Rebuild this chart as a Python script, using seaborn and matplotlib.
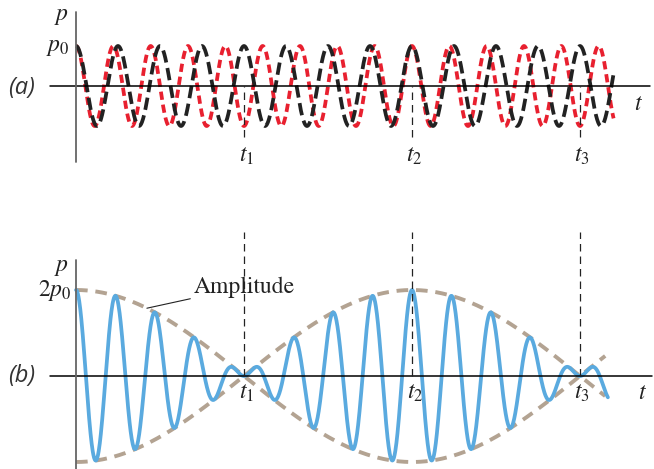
import numpy as np
import matplotlib
matplotlib.use("Agg")
import matplotlib.pyplot as plt
import seaborn as sns

# values (time in units of t2, pressure in units of p0)
P0 = 1.0
freq_black = 8          # cycles between 0 and t2
freq_red = 9
t_marks = [0.5, 1.0, 1.5]
t_labels = ["$t_1$", "$t_2$", "$t_3$"]
t_end_a = 1.60
t_end_b = 1.583
t_end_env = 1.575
amp_point = 0.211

sns.set_style("white")
plt.rcParams["mathtext.fontset"] = "stix"
plt.rcParams["font.family"] = ["DejaVu Sans"]

BLACK = "#222222"
RED = "#e8202f"
BLUE = "#5aaadf"
TAN = "#b3a392"
AXIS_GRAY = "#666666"

W, H = 654, 469
fig = plt.figure(figsize=(W / 100, H / 100), dpi=100)
ax_a = fig.add_axes([0, 1 - 200 / H, 1, 200 / H])
ax_b = fig.add_axes([0, 0, 1, 269 / H])

xlim = (-76 / 336, 578 / 336)
for ax in (ax_a, ax_b):
    ax.set_xlim(*xlim)
    ax.axis("off")
ax_a.set_ylim(-114 / 40, 86 / 40)
ax_b.set_ylim(-93 / 43, 176 / 43)

# ---- panel (a): the two separate waves ----
ta = np.linspace(0, t_end_a, 1500)
p_red = P0 * np.cos(2 * np.pi * freq_red * ta)
p_black = P0 * np.cos(2 * np.pi * freq_black * ta)
sns.lineplot(x=ta, y=p_red, ax=ax_a, color=RED, linewidth=2.7,
             linestyle=(0, (2.2, 1.3)), estimator=None, sort=False)
sns.lineplot(x=ta, y=p_black, ax=ax_a, color=BLACK, linewidth=2.7,
             linestyle=(0, (3.3, 1.5)), estimator=None, sort=False)

ax_a.axhline(0, xmin=50 / W, xmax=650 / W, color="black", lw=1.1)
ax_a.axvline(0, ymin=1 - 162 / 200, ymax=1 - 12 / 200, color=AXIS_GRAY, lw=1.3)
for tm in t_marks:
    ax_a.axvline(tm, ymin=1 - 137 / 200, ymax=1 - 86 / 200, color=BLACK,
                 lw=0.9, linestyle=(0, (6, 4)))

serif = dict(fontsize=17, color="#222222")
panel = dict(fontsize=17, style="italic", color="#333333",
             family=["Open Sans", "DejaVu Sans"])
ax_a.text(-0.042, 1.78, "$p$", ha="center", va="center", **serif)
ax_a.text(-0.018, 1.0, "$p_0$", ha="right", va="center", **serif)
ax_a.text(-0.162, -0.05, "(a)", ha="center", va="center", **panel)
ax_a.text(1.673, -0.43, "$t$", ha="center", va="center", **serif)
for tm, lab, dx in zip(t_marks, t_labels, [0.008, 0.006, 0.006]):
    ax_a.text(tm + dx, -1.72, lab, ha="center", va="center", **serif)

# ---- panel (b): the superposition and its envelope ----
tb = np.linspace(0, t_end_b, 1500)
p_sum = P0 * (np.cos(2 * np.pi * freq_red * tb) + np.cos(2 * np.pi * freq_black * tb))
te = np.linspace(0, t_end_env, 600)
env = 2 * P0 * np.abs(np.cos(np.pi * (freq_red - freq_black) * te))

for sgn in (1, -1):
    sns.lineplot(x=te, y=sgn * env, ax=ax_b, color=TAN, linewidth=2.8,
                 linestyle=(0, (3.0, 2.0)), estimator=None, sort=False)
sns.lineplot(x=tb, y=p_sum, ax=ax_b, color=BLUE, linewidth=2.7,
             estimator=None, sort=False)

ax_b.axhline(0, xmin=50 / W, xmax=652 / W, color="black", lw=1.1)
ax_b.axvline(0, ymin=0, ymax=1 - 60 / 269, color=AXIS_GRAY, lw=1.3)
for tm in t_marks:
    ax_b.axvline(tm, ymin=1 - 176 / 269, ymax=1 - 32 / 269, color=BLACK,
                 lw=0.9, linestyle=(0, (6, 4)))

ax_b.text(-0.042, 2.56, "$p$", ha="center", va="center", **serif)
ax_b.text(-0.012, 2.0, "$2p_0$", ha="right", va="center", **serif)
ax_b.text(-0.162, 0.0, "(b)", ha="center", va="center", **panel)
ax_b.text(1.685, -0.37, "$t$", ha="center", va="center", **serif)
for tm, lab, dx in zip(t_marks, t_labels, [0.008, 0.009, 0.006]):
    ax_b.text(tm + dx, -0.37, lab, ha="center", va="center", **serif)

amp_y = 2 * P0 * np.cos(np.pi * (freq_red - freq_black) * amp_point)
ax_b.annotate("Amplitude", xy=(amp_point, amp_y), xytext=(0.350, 2.07),
              ha="left", va="center", fontsize=17, color="#222222",
              family=["STIXGeneral", "DejaVu Serif"],
              arrowprops=dict(arrowstyle="-", color="#222222", lw=0.8,
                              shrinkA=0, shrinkB=0))

fig.savefig("out.png", dpi=100)
